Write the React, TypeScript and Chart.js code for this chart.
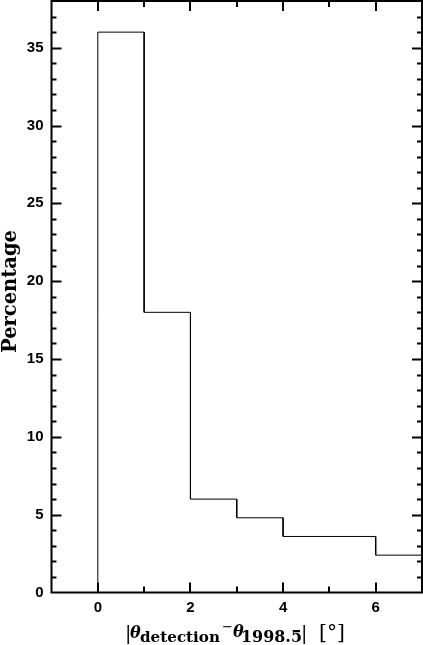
import React, { useEffect, useRef } from "react";
import { Chart, registerables } from "chart.js";

Chart.register(...registerables);

// Histogram data
const binEdges = [0, 1, 2, 3, 4, 6, 7];
const percentages = [36.0, 18.0, 6.0, 4.8, 3.6, 2.4];

// Axis ranges / tick labelling
const xRange = [-1, 7];
const yRange = [0, 38];
const xLabelEvery = 2;
const yLabelEvery = 5;

const yTitle = "Percentage";

function buildSteps() {
  const pts: { x: number; y: number }[] = [{ x: binEdges[0], y: 0 }];
  for (let i = 0; i < percentages.length; i++) {
    pts.push({ x: binEdges[i], y: percentages[i] });
    pts.push({ x: binEdges[i + 1], y: percentages[i] });
  }
  return pts;
}

function fitFont(ctx: CanvasRenderingContext2D, text: string, pre: string, family: string, target: number) {
  ctx.font = `${pre} 100px ${family}`;
  const w = ctx.measureText(text).width;
  const size = (100 * target) / w;
  return `${pre} ${size.toFixed(2)}px ${family}`;
}

const framePlugin = {
  id: "framePlugin",
  afterDraw(chart: any) {
    const ctx: CanvasRenderingContext2D = chart.ctx;
    const { left, right, top, bottom } = chart.chartArea;
    const xs = chart.scales.x;
    const ys = chart.scales.y;
    ctx.save();
    ctx.strokeStyle = "#000";
    // ticks
    ctx.lineWidth = 2;
    ctx.beginPath();
    xs.ticks.forEach((t: any) => {
      const v = t.value;
      if (!Number.isInteger(v) || v <= xRange[0] || v >= xRange[1]) return;
      const len = v % xLabelEvery === 0 ? 10 : 6;
      const px = Math.round(xs.getPixelForValue(v));
      ctx.moveTo(px, bottom);
      ctx.lineTo(px, bottom - len);
      ctx.moveTo(px, top);
      ctx.lineTo(px, top + len);
    });
    ys.ticks.forEach((t: any) => {
      const v = t.value;
      if (!Number.isInteger(v) || v <= yRange[0] || v >= yRange[1]) return;
      const len = v % yLabelEvery === 0 ? 10 : 5;
      const py = Math.round(ys.getPixelForValue(v)) + 0.5;
      ctx.moveTo(left, py);
      ctx.lineTo(left + len, py);
      ctx.moveTo(right, py);
      ctx.lineTo(right - len, py);
    });
    ctx.stroke();
    // frame
    ctx.lineWidth = 2;
    ctx.strokeRect(left, top, right - left, bottom - top);

    // y title
    ctx.fillStyle = "#000";
    ctx.save();
    ctx.translate(16, 291.5);
    ctx.rotate(-Math.PI / 2);
    ctx.font = fitFont(ctx, yTitle, "bold", "'DejaVu Serif'", 123);
    ctx.textAlign = "center";
    ctx.textBaseline = "alphabetic";
    ctx.fillText(yTitle, 0, 0);
    ctx.restore();

    // x title with subscripts
    ctx.textAlign = "left";
    ctx.textBaseline = "alphabetic";
    const seg = (text: string, font: string, x: number, y: number) => {
      ctx.font = font;
      ctx.fillText(text, x, y);
    };
    seg("|", "normal 19px 'DejaVu Serif'", 125, 639);
    seg("θ", "italic bold 16px 'DejaVu Serif'", 130, 638);
    seg("detection", fitFont(ctx, "detection", "bold", "'DejaVu Serif'", 80), 140, 642);
    seg("−", fitFont(ctx, "−", "normal", "'DejaVu Sans'", 11), 222, 631);
    seg("θ", "italic bold 16px 'DejaVu Serif'", 233, 637);
    seg("1998.5", fitFont(ctx, "1998.5", "bold", "'DejaVu Serif'", 61), 241, 642);
    seg("|", "normal 19px 'DejaVu Serif'", 301, 639);
    seg("[°]", fitFont(ctx, "[°]", "normal", "'DejaVu Serif'", 26), 319, 639);
    ctx.restore();
  },
};

function zeroPad(s: any) {
  s.paddingTop = 0;
  s.paddingBottom = 0;
  s.paddingLeft = 0;
  s.paddingRight = 0;
}

export default function App() {
  const ref = useRef<HTMLCanvasElement>(null);
  useEffect(() => {
    document.body.style.margin = "0";
    const chart = new Chart(ref.current!, {
      type: "line",
      data: {
        datasets: [
          {
            data: buildSteps(),
            borderColor: "#000",
            borderWidth: 1,
            pointRadius: 0,
            tension: 0,
            fill: false,
          },
        ],
      },
      options: {
        animation: false,
        responsive: false,
        events: [],
        layout: { padding: { top: 1, right: 1, left: 0, bottom: 0 } },
        plugins: { legend: { display: false }, tooltip: { enabled: false } },
        scales: {
          x: {
            type: "linear",
            min: xRange[0],
            max: xRange[1],
            grid: { display: false, drawTicks: false },
            border: { display: false },
            afterFit: (s: any) => {
              s.height = 52.5;
              zeroPad(s);
            },
            ticks: {
              stepSize: 1,
              autoSkip: false,
              maxRotation: 0,
              padding: 6,
              color: "#000",
              font: { family: "'Liberation Sans'", size: 15, weight: "bold" },
              callback: (v: any) => (Number.isInteger(v) && v % xLabelEvery === 0 && v > xRange[0] && v < xRange[1] ? String(v) : ""),
            },
          },
          y: {
            type: "linear",
            min: yRange[0],
            max: yRange[1],
            grid: { display: false, drawTicks: false },
            border: { display: false },
            afterFit: (s: any) => {
              s.width = 51.5;
              zeroPad(s);
            },
            ticks: {
              stepSize: 1,
              autoSkip: false,
              padding: 8,
              color: "#000",
              font: { family: "'Liberation Sans'", size: 15, weight: "bold" },
              callback: (v: any) => (Number.isInteger(v) && v % yLabelEvery === 0 ? String(v) : ""),
            },
          },
        },
      },
      plugins: [framePlugin],
    });
    return () => chart.destroy();
  }, []);
  return (
    <div style={{ position: "fixed", left: 0, top: 0, width: 423, height: 645 }}>
      <canvas ref={ref} width={423} height={645} style={{ display: "block" }} />
    </div>
  );
}
